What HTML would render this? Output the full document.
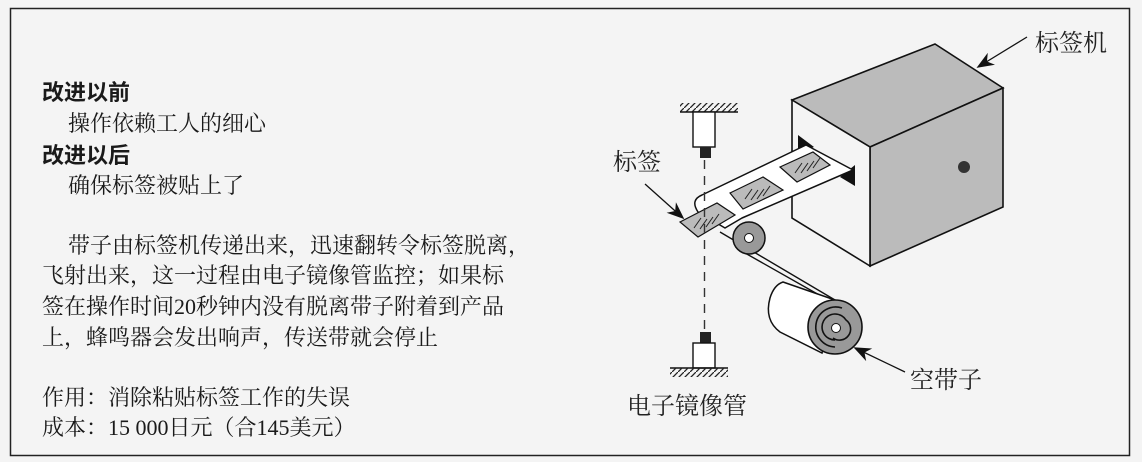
<!DOCTYPE html>
<html><head><meta charset="utf-8"><style>
html,body{margin:0;padding:0;background:#fff}
#c{position:relative;width:1142px;height:462px;background:#f4f4f4;overflow:hidden;font-family:"Liberation Serif","Noto Serif CJK SC",serif;color:#1a1a1a}
.t{position:absolute;font-size:22px;line-height:22px;white-space:nowrap}
.b{font-family:"Liberation Sans","Noto Sans CJK SC",sans-serif;font-weight:bold}
svg{position:absolute;left:0;top:0}
</style></head><body><div id="c">
<svg width="1142" height="462" viewBox="0 0 1142 462">
<defs><pattern id="h" width="6" height="6" patternUnits="userSpaceOnUse"><path d="M0 6 L6 0" stroke="#222" stroke-width="1.3"/></pattern>
<marker id="a2" viewBox="0 0 10 8" markerWidth="18" markerHeight="14" refX="9" refY="4" orient="auto" markerUnits="userSpaceOnUse"><path d="M0 0 L10 4 L0 8 L3 4Z" fill="#111"/></marker></defs>
<rect x="10.5" y="8.5" width="1119" height="447" fill="none" stroke="#222" stroke-width="1.5"/>
<polygon points="792,100 935,44 1003,88 870,147" fill="#bbb" stroke="#111" stroke-width="1.6"/>
<polygon points="870,147 1003,88 1003,207 870,266" fill="#bbb" stroke="#111" stroke-width="1.6"/>
<polygon points="792,100 870,147 870,266 792,218" fill="#f4f4f4" stroke="#111" stroke-width="1.6"/>
<circle cx="964" cy="167" r="6" fill="#333"/>
<polygon points="798,135 798,153 814,147" fill="#111"/>
<polygon points="840,177 855,165 855,186" fill="#111"/>
<!-- tape to roll (behind) -->
<path d="M720,232 L835,300 M745,253 L828,300" stroke="#111" stroke-width="1.4" fill="none"/>
<!-- tape -->
<path d="M806,145 L853,170 L742,218 L725,228 L698,212 Q690,200 702,195 Z" fill="#fff" stroke="#111" stroke-width="1.5" stroke-linejoin="round"/>
<polygon points="730,193 763,177 783,190 743,209" fill="#bbb" stroke="#111" stroke-width="1.2"/>
<polygon points="780,167 813,152 830,165 797,182" fill="#bbb" stroke="#111" stroke-width="1.2"/>
<g stroke="#222" stroke-width="1"><path d="M745,199 l7,-10 M751,200 l7,-10 M757,199 l7,-10 M763,196 l7,-10"/><path d="M795,173 l7,-10 M801,173 l7,-10 M807,171 l7,-10 M813,168 l7,-10"/></g>
<circle cx="749" cy="238" r="16" fill="#999" stroke="#111" stroke-width="1.5"/>
<circle cx="749" cy="238" r="4.5" fill="#fff" stroke="#111"/>
<polygon points="680,222 717,203 735,215 698,237" fill="#bbb" stroke="#111" stroke-width="1.2"/>
<path d="M694,228 l7,-10 M700,229 l7,-10 M706,227 l7,-10 M712,224 l7,-10" stroke="#222" stroke-width="1"/>
<!-- big roll -->
<path d="M783,282 L835,300 L822,353 L780,332 Q764,320 770,298 Q774,285 783,282 Z" fill="#fff" stroke="#111" stroke-width="1.5"/>
<circle cx="835" cy="327" r="27" fill="#999" stroke="#111" stroke-width="1.6"/>
<path d="M835,347 A20,20 0 1 1 842,308 M835,340 A13,13 0 1 1 846,320 A10,10 0 0 1 833,338" fill="none" stroke="#111" stroke-width="1.6"/>
<circle cx="836" cy="328" r="4.5" fill="#fff" stroke="#111"/>
<!-- sensors -->
<rect x="680" y="103" width="58" height="9" fill="url(#h)"/>
<line x1="680" y1="112" x2="738" y2="112" stroke="#111" stroke-width="1.5"/>
<rect x="693" y="112" width="22" height="35" fill="#fff" stroke="#111" stroke-width="1.4"/>
<rect x="700" y="147" width="11" height="11" fill="#222"/>
<line x1="704.5" y1="160" x2="704.5" y2="333" stroke="#333" stroke-width="1.4" stroke-dasharray="9,7"/>
<rect x="700" y="332" width="11" height="11" fill="#222"/>
<rect x="693" y="343" width="22" height="25" fill="#fff" stroke="#111" stroke-width="1.4"/>
<line x1="670" y1="368" x2="728" y2="368" stroke="#111" stroke-width="1.5"/>
<rect x="670" y="368" width="58" height="9" fill="url(#h)"/>
<line x1="645" y1="184" x2="683" y2="218" stroke="#111" stroke-width="1.3" marker-end="url(#a2)"/>
<line x1="1027" y1="37" x2="978" y2="67" stroke="#111" stroke-width="1.3" marker-end="url(#a2)"/>
<line x1="905" y1="372" x2="855" y2="348" stroke="#111" stroke-width="1.3" marker-end="url(#a2)"/>
<text x="1035" y="51" font-size="24" font-family="Liberation Serif,Noto Serif CJK SC,serif" fill="#222">标签机</text>
<text x="613" y="170" font-size="24" font-family="Liberation Serif,Noto Serif CJK SC,serif" fill="#222">标签</text>
<text x="910" y="388" font-size="24" font-family="Liberation Serif,Noto Serif CJK SC,serif" fill="#222">空带子</text>
<text x="627" y="414" font-size="24" font-family="Liberation Serif,Noto Serif CJK SC,serif" fill="#222">电子镜像管</text>
</svg>
<div class="t b" style="left:42px;top:82px">改进以前</div>
<div class="t" style="left:68px;top:113px">操作依赖工人的细心</div>
<div class="t b" style="left:42px;top:145px">改进以后</div>
<div class="t" style="left:68px;top:175px">确保标签被贴上了</div>
<div class="t" style="left:68px;top:235px">带子由标签机传递出来，迅速翻转令标签脱离，</div>
<div class="t" style="left:42px;top:265px">飞射出来，这一过程由电子镜像管监控；如果标</div>
<div class="t" style="left:42px;top:296px">签在操作时间20秒钟内没有脱离带子附着到产品</div>
<div class="t" style="left:42px;top:327px">上，蜂鸣器会发出响声，传送带就会停止</div>
<div class="t" style="left:42px;top:387px">作用：消除粘贴标签工作的失误</div>
<div class="t" style="left:42px;top:417px">成本：15 000日元（合145美元）</div>
</div></body></html>
